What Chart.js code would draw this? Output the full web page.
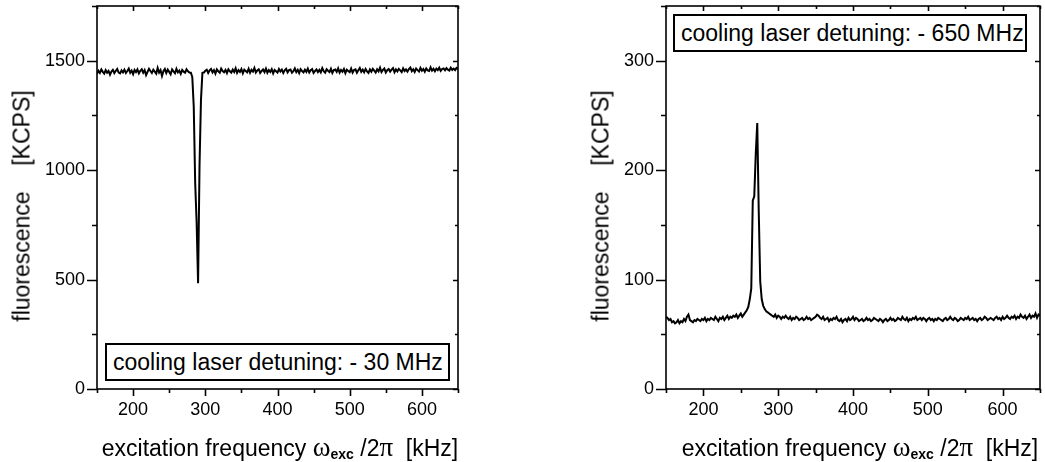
<!DOCTYPE html>
<html>
<head>
<meta charset="utf-8">
<script src="https://cdn.jsdelivr.net/npm/chart.js@4.4.0/dist/chart.umd.min.js"></script>
<style>
  body { margin: 0; background: #fff; width: 1045px; height: 462px; position: relative; overflow: hidden;
         font-family: "Liberation Sans", Arial, sans-serif; color: #000; }
  .box { position: absolute; }
  .ytitle { position: absolute; font-size: 23px; white-space: pre; transform: translate(-50%, -50%) rotate(-90deg); }
  .xtitle { position: absolute; font-size: 23px; white-space: pre; transform: translate(-50%, -50%); }
  .xtitle .gr { font-family: "Liberation Serif", "DejaVu Serif", serif; font-size: 27px; }
  .xtitle sub { font-size: 14px; font-weight: bold; vertical-align: -3px; }
  .note { position: absolute; border: 2px solid #000; font-size: 23px; white-space: pre; background: #fff;
          box-sizing: border-box; padding-left: 6px; line-height: 34px; }
</style>
</head>
<body>
<div class="box" style="left:0;top:0;width:470px;height:462px"><canvas id="left-chart"></canvas></div>
<div class="box" style="left:520px;top:0;width:525px;height:462px"><canvas id="right-chart"></canvas></div>

<div class="ytitle" style="left:22px;top:206px">fluorescence    [KCPS]</div>
<div class="ytitle" style="left:601px;top:206px">fluorescence    [KCPS]</div>
<div class="xtitle" style="left:280px;top:447px">excitation frequency <span class="gr">ω</span><sub>exc</sub> /2<span class="gr">π</span>  [kHz]</div>
<div class="xtitle" style="left:860px;top:447px">excitation frequency <span class="gr">ω</span><sub>exc</sub> /2<span class="gr">π</span>  [kHz]</div>
<div class="note" style="left:105px;top:343px;width:345px;height:38px">cooling laser detuning: - 30 MHz</div>
<div class="note" style="left:673px;top:14px;width:354px;height:38px">cooling laser detuning: - 650 MHz</div>

<script>
// sweep grid (kHz): 150 .. 650 in 2 kHz steps
const freqStart = 150;
const freqStep = 2;

// detuning -30 MHz: dip near 290 kHz
const fluorLeft = [
  1440,1454,1444,1460,1449,1441,1457,1445,1453,1436,1450,1458,1443,1454,1462,1446,1442,1456,1447,1459,
  1444,1453,1464,1445,1455,1439,1458,1448,1460,1442,1454,1461,1445,1457,1434,1449,1463,1453,1444,1459,
  1450,1441,1467,1446,1457,1430,1452,1462,1444,1459,1449,1438,1460,1451,1443,1463,1447,1455,1440,1458,
  1450,1445,1461,1452,1446,
  1445,1425,1290,940,760,483,1020,1320,1445,
  1446,1454,1459,1444,1456,1462,1447,1457,1441,1460,1451,1445,1464,1453,1447,1458,1443,1461,1452,1446,
  1459,1448,1465,1444,1457,1449,1462,1442,1459,1453,1447,1463,1445,1458,1450,1467,1446,1456,1461,1444,
  1453,1460,1448,1464,1445,1457,1449,1461,1442,1458,1452,1446,1462,1451,1459,1444,1456,1463,1447,1457,
  1460,1445,1452,1465,1448,1458,1443,1461,1453,1447,1459,1449,1464,1446,1457,1462,1444,1453,1460,1448,
  1458,1447,1466,1452,1445,1461,1454,1448,1463,1444,1457,1460,1449,1465,1446,1458,1450,1462,1443,1459,
  1453,1448,1464,1446,1458,1461,1445,1456,1467,1449,1459,1447,1462,1451,1444,1460,1450,1463,1455,1446,
  1461,1451,1468,1448,1458,1464,1446,1457,1462,1450,1459,1466,1447,1460,1451,1463,1456,1448,1465,1453,
  1460,1450,1462,1469,1452,1461,1449,1464,1457,1451,1467,1454,1462,1450,1465,1456,1453,1470,1455,1463,
  1452,1464,1457,1468,1454,1462,1465,1456,1466,1459,1455,1468,1458,1464,1457,1467,1463
];

// detuning -650 MHz: peak near 272 kHz
const fluorRight = [
  66,65,63,64,61,62,60,61,63,60,62,61,64,62,66,68,63,62,61,63,
  62,64,63,62,64,63,65,62,64,63,65,64,63,66,64,62,65,64,66,63,
  65,67,64,66,65,67,66,68,65,67,69,66,68,70,72,
  75,82,92,172,176,215,243,162,98,82,76,73,71,70,69,68,
  67,66,68,65,67,66,64,66,65,67,65,64,66,63,65,64,66,65,63,64,
  65,63,64,66,64,65,63,64,65,66,68,67,65,64,66,63,64,65,62,64,
  63,65,64,66,63,62,64,61,63,64,62,65,63,64,66,63,65,64,62,63,
  64,62,63,65,63,64,62,63,65,64,63,62,64,63,61,63,64,62,63,65,
  63,64,62,63,65,64,63,66,64,63,65,62,64,63,65,64,66,63,64,65,
  63,65,64,62,64,65,63,64,62,64,63,65,64,63,62,64,65,63,64,66,
  64,63,65,64,62,63,65,64,63,65,64,66,63,64,65,63,64,62,64,65,
  63,64,66,65,63,64,65,64,63,65,66,64,65,63,66,64,65,67,65,64,
  66,65,67,64,66,65,68,66,65,67,64,66,68,65,67,66,69,65,68,67
];

const xTickStep = 50;     // labels every 100
const leftYMax = 1750, leftYStep = 250, leftYLabel = 500;
const rightYMax = 350, rightYStep = 50, rightYLabel = 100;

const FONT = '"Liberation Sans", Arial, sans-serif';

// box frame + Origin style ticks (major / minor) on all four sides
const frameTicks = {
  id: 'frameTicks',
  afterDraw(chart, args, opts) {
    const { ctx, chartArea: a } = chart;
    const xs = chart.scales.x, ys = chart.scales.y;
    ctx.save();
    ctx.strokeStyle = '#000';
    ctx.lineWidth = 1.6;
    ctx.strokeRect(a.left, a.top, a.right - a.left, a.bottom - a.top);
    ctx.beginPath();
    xs.ticks.forEach(t => {
      const px = Math.round(xs.getPixelForValue(t.value)) + 0.5;
      const major = t.value % opts.xMajor === 0;
      ctx.moveTo(px, a.bottom); ctx.lineTo(px, a.bottom + (major ? 7 : 4));
      ctx.moveTo(px, a.top); ctx.lineTo(px, a.top + (major ? 5 : 3));
    });
    ys.ticks.forEach(t => {
      const py = Math.round(ys.getPixelForValue(t.value)) + 0.5;
      const major = t.value % opts.yMajor === 0;
      ctx.moveTo(a.left, py); ctx.lineTo(a.left - (major ? 10 : 5), py);
      ctx.moveTo(a.right, py); ctx.lineTo(a.right - (major ? 5 : 3), py);
    });
    ctx.stroke();
    ctx.restore();
  }
};

function makeChart(id, values, yMax, yStep, yLabelStep, yWidth, padRight) {
  const points = values.map((v, i) => ({ x: freqStart + freqStep * i, y: v }));
  return new Chart(document.getElementById(id), {
    type: 'line',
    data: {
      datasets: [{
        data: points,
        borderColor: '#000',
        borderWidth: 2,
        pointRadius: 0,
        tension: 0,
      }]
    },
    options: {
      responsive: true, maintainAspectRatio: false, animation: false,
      layout: { padding: { top: 6, right: padRight, left: 0, bottom: 0 } },
      scales: {
        x: {
          type: 'linear', min: 150, max: 650,
          grid: { display: false, drawTicks: false },
          border: { display: false },
          ticks: {
            stepSize: xTickStep, autoSkip: false, maxRotation: 0, padding: 10,
            color: '#000', font: { size: 18, family: FONT },
            callback: v => (v % 100 === 0 && v > 150 && v < 650) ? v : ''
          },
          afterFit: s => { s.height = 73; s.paddingLeft = 0; s.paddingRight = 0; }
        },
        y: {
          min: 0, max: yMax,
          grid: { display: false, drawTicks: false },
          border: { display: false },
          ticks: {
            stepSize: yStep, autoSkip: false, padding: 12,
            color: '#000', font: { size: 18, family: FONT },
            callback: v => v % yLabelStep === 0 ? v : ''
          },
          afterFit: s => { s.width = yWidth; s.paddingTop = 0; s.paddingBottom = 0; }
        }
      },
      plugins: {
        legend: { display: false },
        tooltip: { enabled: false },
        frameTicks: { xMajor: 100, yMajor: yLabelStep }
      }
    },
    plugins: [frameTicks]
  });
}

makeChart('left-chart', fluorLeft, leftYMax, leftYStep, leftYLabel, 97, 12);
makeChart('right-chart', fluorRight, rightYMax, rightYStep, rightYLabel, 146, 5);
</script>
</body>
</html>
